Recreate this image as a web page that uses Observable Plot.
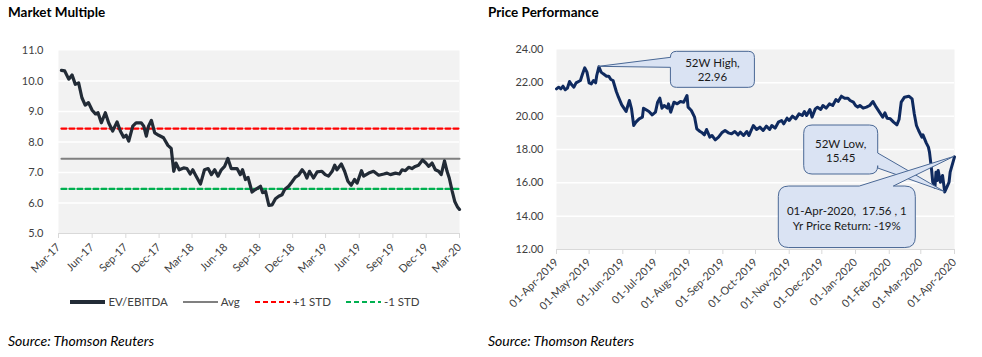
<!DOCTYPE html>
<html><head><meta charset="utf-8">
<script src="https://cdn.jsdelivr.net/npm/d3@7"></script>
<script src="https://cdn.jsdelivr.net/npm/@observablehq/plot@0.6"></script>
<style>
body{margin:0;background:#fff;font-family:Lato,"Open Sans",sans-serif;}
#root{position:relative;width:982px;height:357px;overflow:hidden;background:#fff;}
.panel{position:absolute;top:0;width:490px;height:357px;}
.title{position:absolute;left:8px;top:4px;font-weight:700;font-size:13.5px;color:#000;white-space:nowrap;}
.chart{position:absolute;left:0;top:30px;}
.legend{position:absolute;left:0;top:295px;width:490px;display:flex;justify-content:center;align-items:center;gap:15px;font-size:11.5px;color:#404040;}
.legend .item{display:flex;align-items:center;gap:3px;}
.source{position:absolute;left:8px;top:332px;font-style:italic;font-size:14px;color:#000;white-space:nowrap;}
</style></head>
<body><div id="root">
<div class="panel" id="left"><div class="title">Market Multiple</div><div class="chart" id="c1"></div><div class="legend" id="lg1"></div><div class="source">Source: Thomson Reuters</div></div>
<div class="panel" id="right" style="left:480px;width:502px"><div class="title">Price Performance</div><div class="chart" id="c2"></div><div class="source">Source: Thomson Reuters</div></div>
</div>
<script>
// ---------- Market Multiple data ----------
const evDates = ["2017-03-09","2017-03-18","2017-03-29","2017-04-07","2017-04-16","2017-04-25","2017-05-04","2017-05-13","2017-05-22","2017-06-01","2017-06-10","2017-06-17","2017-06-26","2017-07-07","2017-07-16","2017-07-27","2017-08-08","2017-08-17","2017-08-26","2017-09-02","2017-09-09","2017-09-20","2017-09-29","2017-10-13","2017-10-20","2017-10-27","2017-11-02","2017-11-10","2017-11-19","2017-11-30","2017-12-13","2017-12-25","2018-01-03","2018-01-10","2018-01-16","2018-01-25","2018-02-06","2018-02-15","2018-02-24","2018-03-03","2018-03-10","2018-03-24","2018-04-04","2018-04-14","2018-04-23","2018-05-02","2018-05-11","2018-05-20","2018-05-29","2018-06-07","2018-06-16","2018-07-02","2018-07-11","2018-07-17","2018-07-25","2018-08-01","2018-08-12","2018-08-21","2018-09-04","2018-09-10","2018-09-18","2018-09-27","2018-10-06","2018-10-15","2018-10-24","2018-11-02","2018-11-09","2018-11-20","2018-11-29","2018-12-08","2018-12-17","2018-12-27","2019-01-03","2019-01-09","2019-01-16","2019-01-27","2019-02-06","2019-02-19","2019-02-28","2019-03-09","2019-03-19","2019-03-26","2019-04-01","2019-04-13","2019-04-22","2019-05-01","2019-05-10","2019-05-19","2019-05-26","2019-06-07","2019-06-13","2019-06-27","2019-07-10","2019-07-24","2019-08-07","2019-08-16","2019-08-25","2019-09-08","2019-09-19","2019-09-26","2019-10-05","2019-10-14","2019-10-23","2019-11-01","2019-11-10","2019-11-21","2019-11-30","2019-12-08","2019-12-17","2019-12-26","2020-01-04","2020-01-11","2020-01-20","2020-01-27","2020-02-02","2020-02-10","2020-02-17","2020-02-24","2020-03-01"];
const evValues = [10.35,10.33,10.06,10.20,9.89,9.94,9.45,9.21,9.29,9.04,8.92,8.96,8.63,8.96,8.63,8.36,8.66,8.36,8.16,8.22,8.03,8.52,8.63,8.63,8.52,8.19,8.52,8.71,8.30,8.22,8.14,7.89,7.79,7.04,7.31,7.09,7.15,7.13,6.95,7.09,6.93,6.62,7.09,7.13,6.93,7.09,6.88,7.09,7.20,7.46,7.13,7.13,6.93,7.09,6.77,6.84,6.36,6.44,6.55,6.34,6.38,5.92,5.94,6.14,6.22,6.27,6.44,6.55,6.69,6.84,6.91,7.09,6.98,6.82,7.04,6.82,7.02,7.04,6.93,6.88,7.04,7.24,7.09,7.28,7.04,6.71,6.58,6.77,6.65,7.06,6.88,6.98,7.04,6.91,6.95,6.98,6.93,6.98,6.95,7.09,7.06,7.17,7.13,7.20,7.24,7.41,7.31,7.20,7.31,7.09,7.04,6.93,7.38,7.04,6.82,6.39,6.05,5.88,5.79];
const evAverage = 7.45;
const evStd = 0.99;
const evSeriesNames = ["EV/EBITDA","Avg","+1 STD","-1 STD"];
const evXTicks = ["2017-03-01","2017-06-01","2017-09-01","2017-12-01","2018-03-01","2018-06-01","2018-09-01","2018-12-01","2019-03-01","2019-06-01","2019-09-01","2019-12-01","2020-03-01"];
const evYTicks = [5,6,7,8,9,10,11];

// ---------- Price Performance data ----------
const priceDates = ["2019-04-01","2019-04-03","2019-04-05","2019-04-07","2019-04-09","2019-04-11","2019-04-13","2019-04-15","2019-04-17","2019-04-19","2019-04-23","2019-04-25","2019-04-27","2019-04-29","2019-05-01","2019-05-03","2019-05-05","2019-05-07","2019-05-08","2019-05-10","2019-05-12","2019-05-14","2019-05-17","2019-05-19","2019-05-21","2019-05-23","2019-05-26","2019-05-28","2019-05-31","2019-06-02","2019-06-04","2019-06-07","2019-06-09","2019-06-11","2019-06-13","2019-06-16","2019-06-19","2019-06-20","2019-06-22","2019-06-25","2019-06-28","2019-07-01","2019-07-03","2019-07-05","2019-07-07","2019-07-09","2019-07-12","2019-07-13","2019-07-15","2019-07-18","2019-07-21","2019-07-24","2019-07-27","2019-07-30","2019-07-31","2019-08-03","2019-08-06","2019-08-08","2019-08-11","2019-08-13","2019-08-15","2019-08-17","2019-08-20","2019-08-22","2019-08-25","2019-08-28","2019-08-31","2019-09-03","2019-09-06","2019-09-09","2019-09-12","2019-09-15","2019-09-17","2019-09-20","2019-09-23","2019-09-25","2019-09-26","2019-09-29","2019-10-02","2019-10-05","2019-10-08","2019-10-11","2019-10-14","2019-10-16","2019-10-19","2019-10-22","2019-10-25","2019-10-27","2019-10-30","2019-11-01","2019-11-04","2019-11-07","2019-11-10","2019-11-13","2019-11-15","2019-11-17","2019-11-20","2019-11-22","2019-11-25","2019-11-27","2019-11-30","2019-12-02","2019-12-05","2019-12-08","2019-12-11","2019-12-14","2019-12-16","2019-12-19","2019-12-22","2019-12-25","2019-12-27","2019-12-30","2020-01-01","2020-01-03","2020-01-05","2020-01-08","2020-01-11","2020-01-14","2020-01-17","2020-01-20","2020-01-23","2020-01-26","2020-01-28","2020-01-30","2020-02-02","2020-02-05","2020-02-08","2020-02-10","2020-02-12","2020-02-15","2020-02-19","2020-02-22","2020-02-24","2020-02-26","2020-02-28","2020-03-02","2020-03-03","2020-03-06","2020-03-08","2020-03-09","2020-03-11","2020-03-12","2020-03-14","2020-03-15","2020-03-16","2020-03-17","2020-03-19","2020-03-21","2020-03-23","2020-03-25","2020-03-27","2020-03-28","2020-04-01"];
const priceValues = [21.64,21.74,21.64,21.80,21.58,21.68,22.08,21.88,21.74,22.00,22.14,22.54,22.90,22.64,22.00,21.94,22.14,22.00,22.44,22.96,22.64,22.54,22.40,22.40,22.20,22.14,21.48,21.14,20.68,20.48,20.28,20.94,20.44,19.44,19.64,19.84,19.94,20.48,20.40,20.28,20.08,20.24,20.84,21.08,20.48,20.64,20.48,20.74,20.24,20.84,20.74,20.88,20.84,21.24,20.54,20.34,19.94,19.24,19.08,19.00,18.88,19.20,18.74,18.84,18.58,18.74,19.00,19.14,19.00,18.94,19.08,18.88,19.04,18.84,19.08,18.84,19.00,19.44,19.20,19.34,19.14,19.40,19.20,19.44,19.28,19.64,19.74,19.54,19.88,19.74,20.00,19.84,20.14,20.04,20.28,20.04,20.40,19.94,20.44,20.54,20.40,20.64,20.48,20.74,20.64,21.00,20.88,21.20,21.08,21.08,20.94,20.84,20.64,20.54,20.64,20.48,20.54,20.64,20.88,20.54,20.24,19.94,20.20,19.88,19.84,19.64,19.48,19.80,20.84,21.14,21.20,21.04,20.14,19.44,19.14,18.74,18.88,18.40,18.14,17.84,16.74,16.04,15.74,16.64,16.14,16.74,16.04,16.44,15.45,15.74,16.04,16.64,17.56];
const priceXTicks = ["2019-04-01","2019-05-01","2019-06-01","2019-07-01","2019-08-01","2019-09-01","2019-10-01","2019-11-01","2019-12-01","2020-01-01","2020-02-01","2020-03-01","2020-04-01"];
const priceYTicks = [12,14,16,18,20,22,24];

// callouts: anchor point (date, value) and text
const calloutDates = ["2019-05-10","2020-03-23","2020-04-01"];
const calloutValues = [22.96,15.45,17.56];
const calloutTexts = [["52W High,","22.96"],["52W Low,","15.45"],["01-Apr-2020,  17.56 , 1","Yr Price Return: -19%"]];

// ---------- helpers ----------
const D = s => new Date(s);
const font = "Lato, 'Open Sans', sans-serif";

// callout box layout relative to anchor (pixels)
const calloutLayout = [
  {dx:72, dy:-15, w:84, h:36, side:"left", b1:6, b2:16, lh:14, ty:0},
  {dx:-140.5, dy:-66.5, w:74, h:49, side:"right", b1:28, b2:43, lh:14, ty:1},
  {dx:-175.7, dy:29.7, w:137, h:61.5, side:"top", b1:81, b2:115, lh:14.5, ty:1}
];

function calloutPath(x, y, w, h, side, b1, b2, tx, ty) {
  const r = Math.min(w, h) * 0.17;
  let p = `M${x + r},${y}`;
  if (side === "top") p += `L${x + b1},${y}L${tx},${ty}L${x + b2},${y}`;
  p += `L${x + w - r},${y}Q${x + w},${y} ${x + w},${y + r}`;
  if (side === "right") p += `L${x + w},${y + b1}L${tx},${ty}L${x + w},${y + b2}`;
  p += `L${x + w},${y + h - r}Q${x + w},${y + h} ${x + w - r},${y + h}`;
  p += `L${x + r},${y + h}Q${x},${y + h} ${x},${y + h - r}`;
  if (side === "left") p += `L${x},${y + b2}L${tx},${ty}L${x},${y + b1}`;
  p += `L${x},${y + r}Q${x},${y} ${x + r},${y}Z`;
  return p;
}

function calloutMark(index, scales) {
  const g = d3.create("svg:g");
  calloutDates.forEach((d, i) => {
    const ax = scales.x(D(d)), ay = scales.y(calloutValues[i]);
    const L = calloutLayout[i];
    const x = ax + L.dx, y = ay + L.dy;
    g.append("path").attr("d", calloutPath(x, y, L.w, L.h, L.side, L.b1, L.b2, ax, ay))
      .attr("fill", "#dae3f3").attr("stroke", "#4a6895").attr("stroke-width", 1);
    const lines = calloutTexts[i];
    const cy = y + L.h / 2 + L.ty;
    lines.forEach((t, j) => {
      g.append("text").attr("x", x + L.w / 2).attr("y", cy + (j - (lines.length - 1) / 2) * L.lh)
        .attr("text-anchor", "middle").attr("dominant-baseline", "central")
        .attr("fill", "#1a1a1a").attr("font-size", 11.5).attr("font-family", font)
        .style("white-space", "pre").text(t);
    });
  });
  return g.node();
}

// ---------- left chart ----------
const ev = evDates.map((d, i) => ({date: D(d), value: evValues[i]}));
const first = ev[0].date, last = ev[ev.length - 1].date;
const lvl = v => [{date: first, value: v}, {date: last, value: v}];
const evColors = ["#222b36", "#808080", "#ff0000", "#00b050"];

const chart1 = Plot.plot({
  width: 490, height: 260,
  marginTop: 20, marginLeft: 58, marginRight: 31, marginBottom: 57,
  x: {type: "utc", domain: [D(evXTicks[0]), D(evXTicks[evXTicks.length - 1])]},
  y: {domain: [5, 11]},
  style: {fontFamily: font, fontSize: "11px", color: "#404040", background: "transparent", overflow: "visible"},
  marks: [
    Plot.frame({fill: "#f2f2f2", stroke: "none"}),
    Plot.gridY(evYTicks.slice(1, -1), {stroke: "#ffffff", strokeOpacity: 1, strokeWidth: 1.5}),
    Plot.ruleY([evYTicks[0]], {stroke: "#d9d9d9", strokeWidth: 1}),
    Plot.axisX({ticks: evXTicks.map(D), tickFormat: d3.utcFormat("%b-%y"), tickRotate: -45, tickSize: 5, tickPadding: 7, stroke: "#d9d9d9", fill: "#404040", label: null}),
    Plot.axisY({ticks: evYTicks, tickFormat: d3.format(".1f"), tickSize: 0, tickPadding: 15, fill: "#404040", label: null}),
    Plot.line(lvl(evAverage + evStd), {x: "date", y: "value", stroke: evColors[2], strokeWidth: 2.2, strokeDasharray: "5,3"}),
    Plot.line(lvl(evAverage - evStd), {x: "date", y: "value", stroke: evColors[3], strokeWidth: 2.2, strokeDasharray: "5,3"}),
    Plot.line(lvl(evAverage), {x: "date", y: "value", stroke: evColors[1], strokeWidth: 2}),
    Plot.line(ev, {x: "date", y: "value", stroke: evColors[0], strokeWidth: 3.2, strokeLinejoin: "round"})
  ]
});
document.getElementById("c1").append(chart1);

// legend
const lg = document.getElementById("lg1");
const swStyles = [{w: 4, dash: null}, {w: 2.2, dash: null}, {w: 2.2, dash: "5,3"}, {w: 2.2, dash: "5,3"}];
evSeriesNames.forEach((name, i) => {
  const item = document.createElement("div");
  item.className = "item";
  item.innerHTML = `<svg width="35" height="10"><line x1="0" x2="35" y1="5" y2="5" stroke="${evColors[i]}" stroke-width="${swStyles[i].w}" ${swStyles[i].dash ? `stroke-dasharray="${swStyles[i].dash}"` : ""}/></svg><span>${name}</span>`;
  lg.append(item);
});

// ---------- right chart ----------
const price = priceDates.map((d, i) => ({date: D(d), value: priceValues[i]}));
const chart2 = Plot.plot({
  width: 500, height: 290,
  marginTop: 19, marginLeft: 76, marginRight: 26, marginBottom: 71,
  x: {type: "utc", domain: [D(priceXTicks[0]), D(priceXTicks[priceXTicks.length - 1])]},
  y: {domain: [12, 24]},
  style: {fontFamily: font, fontSize: "11px", color: "#404040", background: "transparent", overflow: "visible"},
  marks: [
    Plot.frame({fill: "#f2f2f2", stroke: "none"}),
    Plot.gridY(priceYTicks.slice(1, -1), {stroke: "#ffffff", strokeOpacity: 1, strokeWidth: 1.5}),
    Plot.ruleY([priceYTicks[0]], {stroke: "#d9d9d9", strokeWidth: 1}),
    Plot.axisX({ticks: priceXTicks.map(D), tickFormat: d3.utcFormat("%d-%b-%Y"), tickRotate: -45, tickSize: 5, tickPadding: 6, stroke: "#d9d9d9", fill: "#404040", label: null}),
    Plot.axisY({ticks: priceYTicks, tickFormat: d3.format(".2f"), tickSize: 0, tickPadding: 13, fill: "#404040", label: null}),
    Plot.line(price, {x: "date", y: "value", stroke: "#0f2a5f", strokeWidth: 3, strokeLinejoin: "round"}),
    calloutMark
  ]
});
document.getElementById("c2").append(chart2);
</script>
</body></html>
